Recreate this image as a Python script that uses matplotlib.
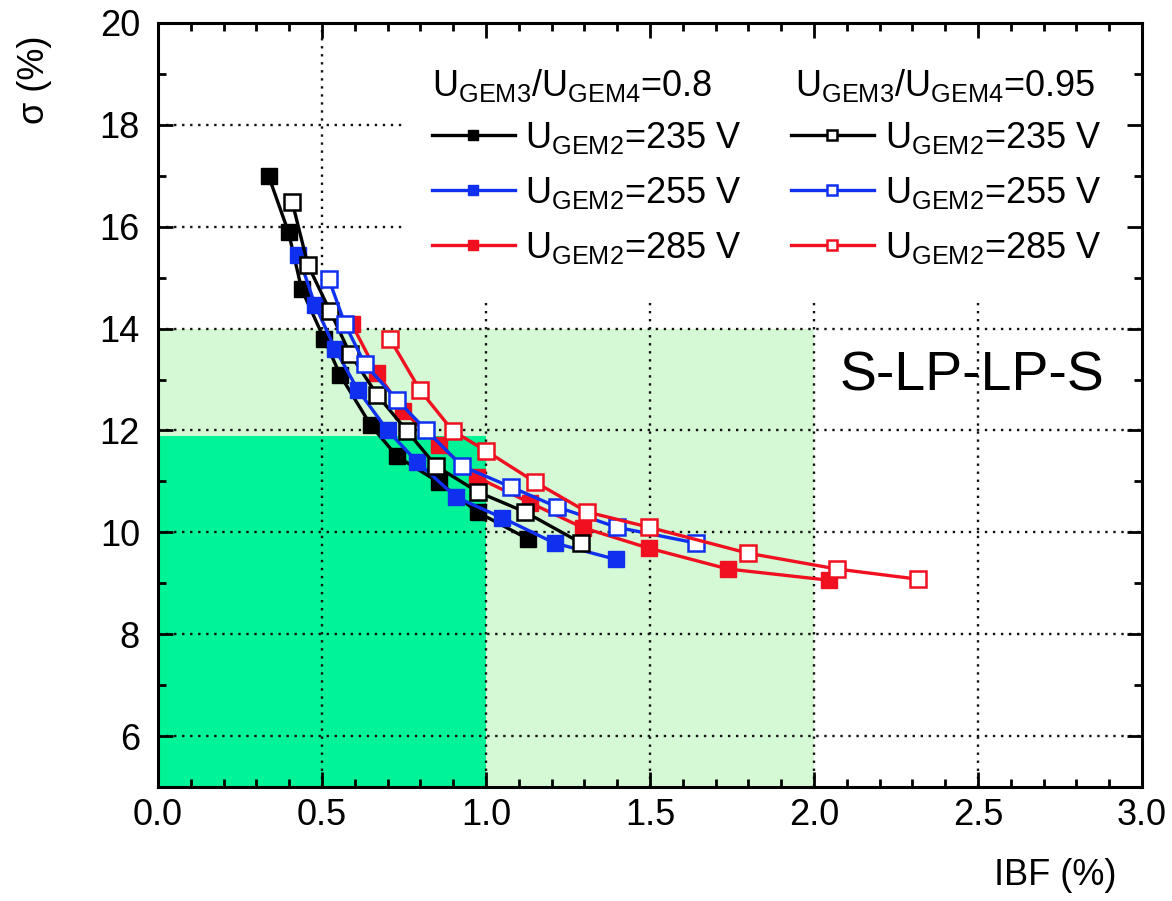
import matplotlib
matplotlib.use("Agg")
import matplotlib.pyplot as plt
from matplotlib.patches import Rectangle
from matplotlib.ticker import MultipleLocator

plt.rcParams['font.family'] = ['Liberation Sans', 'DejaVu Sans']
plt.rcParams['mathtext.fontset'] = 'custom'
plt.rcParams['mathtext.rm'] = 'Liberation Sans'
plt.rcParams['mathtext.it'] = 'Liberation Sans'
plt.rcParams['mathtext.bf'] = 'Liberation Sans:bold'

# ---------------- data ----------------
ibf_08_235 = [0.337, 0.398, 0.438, 0.507, 0.556, 0.649, 0.729, 0.857, 0.976, 1.128]
sig_08_235 = [17.0, 15.89, 14.77, 13.79, 13.08, 12.10, 11.49, 10.98, 10.39, 9.87]

ibf_08_255 = [0.427, 0.479, 0.540, 0.609, 0.700, 0.789, 0.909, 1.048, 1.209, 1.395]
sig_08_255 = [15.45, 14.46, 13.60, 12.80, 12.00, 11.39, 10.69, 10.29, 9.79, 9.47]

ibf_08_285 = [0.590, 0.668, 0.747, 0.857, 0.973, 1.134, 1.296, 1.496, 1.738, 2.046]
sig_08_285 = [14.10, 13.13, 12.39, 11.71, 11.08, 10.58, 10.09, 9.69, 9.28, 9.06]

ibf_095_235 = [0.409, 0.457, 0.524, 0.585, 0.668, 0.759, 0.848, 0.976, 1.119, 1.290]
sig_095_235 = [16.49, 15.25, 14.35, 13.51, 12.70, 11.99, 11.30, 10.79, 10.40, 9.79]

ibf_095_255 = [0.521, 0.570, 0.631, 0.729, 0.817, 0.927, 1.076, 1.216, 1.399, 1.640]
sig_095_255 = [14.97, 14.09, 13.30, 12.60, 12.01, 11.30, 10.89, 10.50, 10.10, 9.79]

ibf_095_285 = [0.707, 0.799, 0.899, 1.000, 1.149, 1.308, 1.497, 1.799, 2.070, 2.317]
sig_095_285 = [13.80, 12.79, 11.99, 11.60, 10.99, 10.40, 10.10, 9.59, 9.28, 9.08]

voltages = ['235', '255', '285']
ratios = ['0.8', '0.95']

# requirement regions (IBF max, sigma max)
region_light = (2.0, 14.0)
region_dark = (1.0, 11.9)

x_ticks = [0.0, 0.5, 1.0, 1.5, 2.0, 2.5, 3.0]
y_ticks = [6, 8, 10, 12, 14, 16, 18, 20]

colors = ['#000000', '#1030F0', '#F01020']

# ---------------- figure ----------------
fig = plt.figure(figsize=(11.72, 9.01), dpi=100)
ax = fig.add_axes([158/1172, 1 - 787/901, 984/1172, 764/901])
ax.set_xlim(0, 3.0)
ax.set_ylim(5, 20)

ax.add_patch(Rectangle((0, 5), region_light[0], region_light[1] - 5,
                       facecolor='#D4F9D4', edgecolor='none', zorder=0.1))
ax.add_patch(Rectangle((0, 5), region_dark[0], region_dark[1] - 5,
                       facecolor='#00F396', edgecolor='none', zorder=0.2))

grid_kw = dict(color='#111111', lw=1.7, linestyle=(0, (1, 2.4)), zorder=0.5)
for xv in x_ticks[1:-1]:
    ax.axvline(xv, **grid_kw)
for yv in y_ticks[:-1]:
    ax.axhline(yv, **grid_kw)

# white legend area
ax.add_patch(Rectangle((0.250, 0.640), 0.75, 0.36, transform=ax.transAxes,
                       facecolor='white', edgecolor='none', zorder=0.8))

series = [
    (ibf_08_235, sig_08_235, 0, True),
    (ibf_08_255, sig_08_255, 1, True),
    (ibf_08_285, sig_08_285, 2, True),
    (ibf_095_235, sig_095_235, 0, False),
    (ibf_095_255, sig_095_255, 1, False),
    (ibf_095_285, sig_095_285, 2, False),
]
handles = []
for xs, ys, ci, filled in series:
    c = colors[ci]
    if filled:
        h, = ax.plot(xs, ys, '-', color=c, lw=2.4, marker='s', ms=11,
                     mfc=c, mec=c, zorder=3)
    else:
        h, = ax.plot(xs, ys, '-', color=c, lw=2.4, marker='s', ms=11,
                     mfc='white', mec=c, mew=1.8, zorder=3)
    handles.append(h)

labels = [r'$\mathrm{U_{GEM2}}$=' + v + ' V' for v in voltages] * 2
leg = ax.legend(handles, labels, ncol=2, loc='upper left',
                bbox_to_anchor=(0.278, 0.873), frameon=False, fontsize=26,
                handlelength=2.3, handletextpad=0.3, columnspacing=1.35,
                labelspacing=0.52, borderpad=0, borderaxespad=0,
                markerscale=0.7)
leg.set_zorder(4)

ax.text(0.278, 0.904, r'$\mathrm{U_{GEM3}/U_{GEM4}}$=' + ratios[0], transform=ax.transAxes,
        fontsize=26, ha='left', va='baseline', zorder=4)
ax.text(0.647, 0.904, r'$\mathrm{U_{GEM3}/U_{GEM4}}$=' + ratios[1], transform=ax.transAxes,
        fontsize=26, ha='left', va='baseline', zorder=4)

ax.text(2.48, 13.05, 'S-LP-LP-S', fontsize=40, ha='center', va='center', zorder=4)

# ticks / spines
ax.set_axisbelow(False)
ax.set_xticks(x_ticks)
ax.set_yticks(y_ticks)
ax.set_xticklabels([f'{v:.1f}' for v in x_ticks])
ax.set_yticklabels([str(v) for v in y_ticks])
ax.xaxis.set_minor_locator(MultipleLocator(0.1))
ax.yaxis.set_minor_locator(MultipleLocator(1))
ax.tick_params(which='both', direction='in', top=True, right=True, width=2, labelsize=26)
ax.tick_params(which='major', length=11)
ax.tick_params(which='minor', length=6)
ax.tick_params(axis='x', which='major', pad=8)
ax.tick_params(axis='y', which='major', pad=13)
for s in ax.spines.values():
    s.set_linewidth(2.2)

ax.set_xlabel('IBF (%)', fontsize=26)
ax.xaxis.set_label_coords((1055 - 158) / 984, -0.093)
ax.xaxis.label.set_va('top')
ax.set_ylabel('σ (%)', fontsize=26)
ax.yaxis.set_label_coords((34 - 158) / 984, (787 - 80) / 764)
ax.yaxis.label.set_va('center')

fig.savefig('out.png', dpi=100)
